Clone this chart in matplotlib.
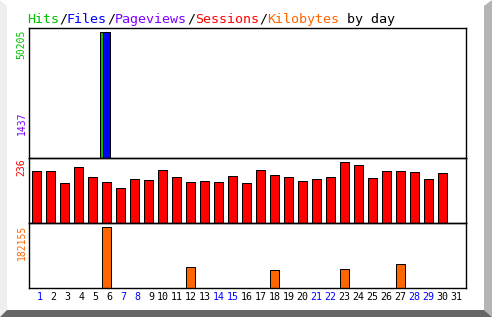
import numpy as np
import matplotlib
matplotlib.use('Agg')
import matplotlib.pyplot as plt
from matplotlib.patches import Polygon
from matplotlib.transforms import blended_transform_factory

days = list(range(1, 32))
hits = [0, 0, 0, 0, 0, 50205, 0, 0, 0, 0, 0, 0, 0, 0, 0, 0,
        0, 0, 0, 0, 0, 0, 0, 0, 0, 0, 0, 0, 0, 0, 0]
files = [0, 0, 0, 0, 0, 49950, 0, 0, 0, 0, 0, 0, 0, 0, 0, 0,
         0, 0, 0, 0, 0, 0, 0, 0, 0, 0, 0, 0, 0, 0, 0]
pages = [0, 0, 0, 0, 0, 1437, 0, 0, 0, 0, 0, 0, 0, 0, 0, 0,
         0, 0, 0, 0, 0, 0, 0, 0, 0, 0, 0, 0, 0, 0, 0]
sessions = [201, 201, 154, 217, 178, 158, 135, 170, 166, 205, 178, 158, 162, 158, 182, 154,
            205, 185, 178, 162, 170, 178, 236, 224, 174, 201, 201, 197, 170, 193, 0]
kbytes = [0, 0, 0, 0, 0, 182155, 0, 0, 0, 0, 0, 62700, 0, 0, 0, 0,
          0, 53750, 0, 0, 0, 0, 56740, 0, 0, 0, 71670, 0, 0, 0, 0]
weekend = [1, 7, 8, 14, 15, 21, 22, 28, 29]

W, H = 492, 317
fig = plt.figure(figsize=(W / 100, H / 100), dpi=100)
fig.patch.set_facecolor('white')

# background frame, pixel coords
bg = fig.add_axes([0, 0, 1, 1])
bg.set_xlim(0, W)
bg.set_ylim(H, 0)
bg.axis('off')
bg.add_patch(Polygon([(0, 0), (7, 6), (7, 310), (0, 317)], closed=True, color='#eeeeee', lw=0))
bg.add_patch(Polygon([(484, 6), (492, 0), (492, 317), (484, 310)], closed=True, color='#b4b4b4', lw=0))
bg.add_patch(Polygon([(7, 310), (484, 310), (492, 317), (0, 317)], closed=True, color='#666666', lw=0))

mono = 'DejaVu Sans Mono'

# title
parts = [('Hits', '#00c000'), ('/', 'black'), ('Files', '#0000ff'), ('/', 'black'),
         ('Pageviews', '#8000ff'), ('/', 'black'), ('Sessions', '#ff0000'), ('/', 'black'),
         ('Kilobytes', '#ff6600'), (' by day', 'black')]
x0 = 27
for txt, c in parts:
    bg.text(x0, 23, txt, color=c, fontsize=9.6, family=mono, ha='left', va='baseline')
    x0 += 8 * len(txt)

# vertical max labels
bg.text(21.5, 44, '50205', color='#00c000', fontsize=7, family=mono, rotation=90, ha='center', va='center')
bg.text(21.5, 123.5, '1437', color='#8000ff', fontsize=7, family=mono, rotation=90, ha='center', va='center')
bg.text(21.5, 167.5, '236', color='#ff0000', fontsize=7, family=mono, rotation=90, ha='center', va='center')
bg.text(21.5, 242.5, '182155', color='#ff6600', fontsize=7, family=mono, rotation=90, ha='center', va='center')

left, right = 28.5, 465.5
xlo = (left - 36.5) / 14 + 1
xhi = (right - 36.5) / 14 + 1


def panel(y_top, y_bot):
    ax = fig.add_axes([left / W, 1 - y_bot / H, (right - left) / W, (y_bot - y_top) / H])
    ax.set_xlim(xlo, xhi)
    ax.set_xticks([])
    ax.set_yticks([])
    for s in ax.spines.values():
        s.set_linewidth(1.0)
        s.set_color('black')
    ax.patch.set_alpha(0)
    return ax


ax1 = panel(28.3, 158.3)
ax2 = panel(158.3, 223)
ax3 = panel(223, 288)

d = np.array(days)
ax1.bar(d - 0.2, hits, width=0.5, color='#00c000', edgecolor='black', linewidth=0.72)
ax1.bar(d + 0.02, pages, width=0.5, color='#8000ff', edgecolor='black', linewidth=0.72)
ax1.bar(d + 0.02, files, width=0.5, color='#0000ff', edgecolor='black', linewidth=0.72)
ax1.set_ylim(0, max(hits) / 0.974)

ax2.bar(d, sessions, width=0.6, color='#ff0000', edgecolor='black', linewidth=0.72)
ax2.set_ylim(0, max(sessions) / 0.938)

ax3.bar(d, kbytes, width=0.58, color='#ff6600', edgecolor='black', linewidth=0.72)
ax3.set_ylim(0, max(kbytes) / 0.938)

tr = blended_transform_factory(ax3.transData, ax3.transAxes)
for day in days:
    c = '#0000ff' if day in weekend else 'black'
    ax3.text(day + 0.43, -0.138, str(day), transform=tr, color=c, fontsize=7.2,
             family=mono, ha='right', va='center', clip_on=False)

fig.savefig('out.png', dpi=100)
